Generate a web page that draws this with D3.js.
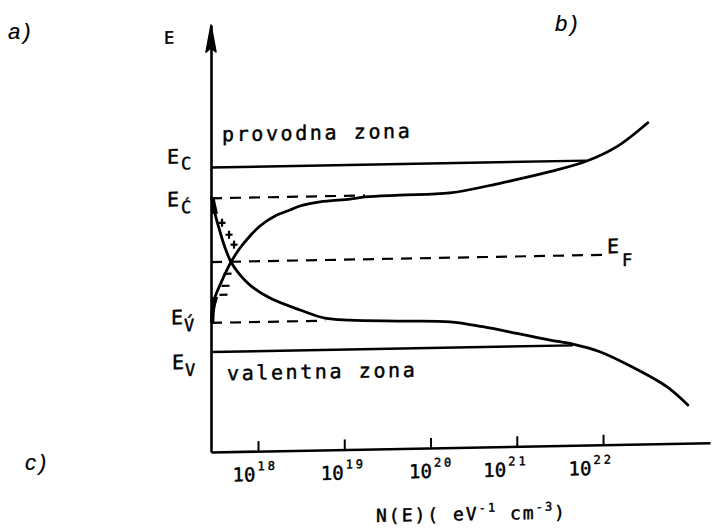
<!DOCTYPE html>
<html>
<head>
<meta charset="utf-8">
<script src="https://cdn.jsdelivr.net/npm/d3@7"></script>
<style>
  html, body { margin: 0; padding: 0; background: #fff; }
  svg { display: block; }
  text { font-family: "DejaVu Sans Mono", monospace; fill: #000; stroke: #000; stroke-width: 0.45px; }
  .fig { font-family: "Liberation Sans", Arial, sans-serif; font-style: italic; stroke-width: 0.2px; }
</style>
</head>
<body>
<svg id="chart" width="714" height="530"></svg>
<script>
// ---- data -------------------------------------------------------------
// decade exponents on the N(E) axis
const tickExponents = [18, 19, 20, 21, 22];

// characteristic energies (eV, measured from E_V)
const levelNames  = ["E_C", "E_C'", "E_F", "E_V'", "E_V"];
const levelEnergy = [1.2, 1.0, 0.585, 0.19, 0.0];

// conduction-band density of states with its tail into the gap
const condLogN = [17.46, 17.467, 17.502, 17.56, 17.629, 17.687, 17.791, 17.907, 18.023, 18.197,
                  18.371, 18.487, 18.718, 19.066, 19.24, 19.645, 20.225, 20.804, 21.384, 21.812,
                  22.16, 22.519];
const condE    = [0.195, 0.273, 0.358, 0.436, 0.52, 0.583, 0.673, 0.75, 0.814, 0.877,
                  0.914, 0.939, 0.963, 0.978, 0.99, 0.998, 1.006, 1.063, 1.132, 1.197,
                  1.287, 1.439];

// valence-band density of states with its tail into the gap
const valLogN = [17.46, 17.467, 17.502, 17.56, 17.618, 17.687, 17.791, 17.907, 18.139, 18.487,
                 18.776, 19.066, 19.645, 20.225, 20.607, 21.001, 21.384, 21.65, 21.963, 22.345,
                 22.739, 22.983];
const valE    = [1.008, 0.989, 0.898, 0.78, 0.676, 0.583, 0.498, 0.431, 0.344, 0.263,
                 0.207, 0.191, 0.179, 0.168, 0.132, 0.085, 0.037, 0.008, -0.045, -0.15,
                 -0.28, -0.402];

// charged tail states: positive above the crossing, negative below
const plusLogN  = [17.583, 17.664, 17.722];
const plusE     = [0.839, 0.761, 0.696];
const minusLogN = [17.641, 17.618, 17.594];
const minusE    = [0.507, 0.429, 0.371];

// ---- scales -----------------------------------------------------------
const svg = d3.select("#chart");
const pow10 = e => Math.pow(10, e);
const x = d3.scaleLog().domain([pow10(17.455), pow10(23.24)]).range([211, 710]);
const y = d3.scaleLinear().domain([-0.65, 2.127]).range([452, 25]);
const X = l => x(pow10(l));

// whole diagram, with the slight slant of the original drawing
const g = svg.append("g")
  .attr("transform", "translate(211,0) skewY(-1.06) translate(-211,0)");

// ---- axes -------------------------------------------------------------
const xAxis = d3.axisBottom(x)
  .tickValues(tickExponents.map(pow10))
  .tickSize(-10)
  .tickSizeOuter(0)
  .tickFormat("");
const ax = g.append("g").attr("transform", `translate(0,${y(-0.65)})`).call(xAxis);
ax.select(".domain").attr("stroke", "#000").attr("stroke-width", 2.6);
ax.selectAll(".tick line").attr("stroke", "#000").attr("stroke-width", 2);

const tickLabelDx = [-26, -24, -22, -34, -35];
ax.selectAll(".tick").each(function (d, i) {
  const t = d3.select(this).append("text")
    .attr("x", tickLabelDx[i]).attr("y", 30)
    .attr("text-anchor", "start")
    .attr("font-size", 19);
  t.append("tspan").text("10");
  t.append("tspan").attr("dy", -11).attr("dx", 2)
    .attr("font-size", 12).attr("letter-spacing", 3)
    .text(String(tickExponents[i]));
});

const yAxis = d3.axisLeft(y).tickValues([]).tickSizeOuter(0);
const ay = g.append("g").attr("transform", "translate(211,0)").call(yAxis);
ay.select(".domain").attr("stroke", "#000").attr("stroke-width", 2.6);
// arrowhead at the top of the energy axis
const tipY = y(2.127);
g.append("path")
  .attr("d", `M211,${tipY} L216,${tipY + 27} L211,${tipY + 23} L206,${tipY + 27} Z`)
  .attr("fill", "#000").attr("stroke", "#000").attr("stroke-width", 1.5)
  .attr("stroke-linejoin", "round");

g.append("text").attr("x", 164).attr("y", 43).attr("font-size", 17).text("E");

// ---- level lines --------------------------------------------------------
const levelEndLogN = [21.81, 19.24, 21.99, 18.78, 21.65];
const levelDash = [null, "11,8", "11,8", "11,8", null];
levelEnergy.forEach((e, i) => {
  g.append("line")
    .attr("x1", X(17.455)).attr("x2", X(levelEndLogN[i]))
    .attr("y1", y(e)).attr("y2", y(e))
    .attr("stroke", "#000")
    .attr("stroke-width", levelDash[i] ? 2.2 : 2.4)
    .attr("stroke-dasharray", levelDash[i]);
});

// ---- density-of-states curves -------------------------------------------
const cond = condLogN.map((l, i) => [l, condE[i]]);
const val = valLogN.map((l, i) => [l, valE[i]]);
const line = d3.line().x(d => X(d[0])).y(d => y(d[1])).curve(d3.curveCatmullRom.alpha(0.5));

[cond, val].forEach(pts => {
  g.append("path").attr("d", line(pts))
    .attr("fill", "none").attr("stroke", "#000")
    .attr("stroke-width", 2.8).attr("stroke-linecap", "round");
});

// occupied tail states squeezed against the energy axis
const tailArea = d3.area()
  .y(d => y(d[1])).x0(x.range()[0]).x1(d => X(d[0]) + 3)
  .curve(d3.curveCatmullRom.alpha(0.5));
g.append("path").attr("d", tailArea(val.filter(d => d[1] >= 0.86))).attr("fill", "#000");
g.append("path").attr("d", tailArea(cond.filter(d => d[1] <= 0.37))).attr("fill", "#000");

plusLogN.forEach((l, i) => {
  const cx = X(l), cy = y(plusE[i]);
  g.append("path").attr("d", `M${cx - 3.5},${cy} H${cx + 3.5} M${cx},${cy - 4} V${cy + 4}`)
    .attr("stroke", "#000").attr("stroke-width", 2.2);
});
minusLogN.forEach((l, i) => {
  const cx = X(l), cy = y(minusE[i]);
  g.append("path").attr("d", `M${cx - 3.5},${cy} H${cx + 4.5}`)
    .attr("stroke", "#000").attr("stroke-width", 2.2);
});

// ---- level labels ----------------------------------------------------------
const labelMain = ["E", "E", "E", "E", "E"];
const labelSub  = ["C", "\u0106", "F", "V\u0301", "V"];
const labelPos  = [ // [x, dy from level, sub dx, sub dy]
  [167, -4.5, 2, 6],
  [167, 7.5, 2, 7],
  [607, -1.5, 3, 13],
  [171, 1, 1, 7],
  [172, 16.5, 1, 7]
];
levelEnergy.forEach((e, i) => {
  const p = labelPos[i];
  const t = g.append("text")
    .attr("x", p[0]).attr("y", y(e) + p[1])
    .attr("font-size", 20);
  t.append("tspan").text(labelMain[i]);
  t.append("tspan").attr("dx", p[2]).attr("dy", p[3]).attr("font-size", 17).text(labelSub[i]);
});

// band names
g.append("text").attr("x", 222).attr("y", 141.5)
  .attr("font-size", 20).attr("letter-spacing", 2.6).text("provodna zona");
g.append("text").attr("x", 227).attr("y", 380.5)
  .attr("font-size", 20).attr("letter-spacing", 2.6).text("valentna zona");

// axis title
const title = g.append("text").attr("x", 376).attr("y", 525)
  .attr("font-size", 18).attr("letter-spacing", 2);
title.append("tspan").text("N(E)( eV");
title.append("tspan").attr("dy", -8).attr("font-size", 12).text("-1");
title.append("tspan").attr("dy", 8).text(" cm");
title.append("tspan").attr("dy", -8).attr("font-size", 12).text("-3");
title.append("tspan").attr("dy", 8).text(")");

// ---- panel letters ---------------------------------------------------------
svg.append("text").attr("class", "fig").attr("x", 8).attr("y", 39)
  .attr("font-size", 22).attr("letter-spacing", 3).text("a)");
svg.append("text").attr("class", "fig").attr("x", 555).attr("y", 31)
  .attr("font-size", 22).attr("letter-spacing", 3).text("b)");
svg.append("text").attr("class", "fig").attr("x", 25).attr("y", 470)
  .attr("font-size", 22).attr("letter-spacing", 3).text("c)");
</script>
</body>
</html>
